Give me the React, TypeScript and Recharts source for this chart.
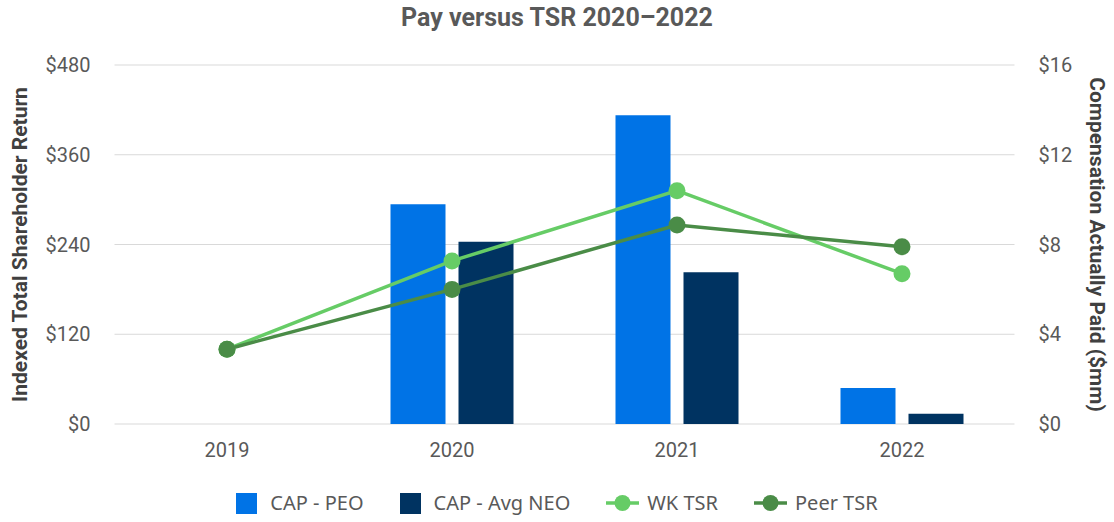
import React from 'react';
import { ComposedChart, Bar, Line, XAxis, YAxis, CartesianGrid, Legend } from 'recharts';

const years = ['2019', '2020', '2021', '2022'];
const capPeo = [null, 9.79, 13.76, 1.6];
const capAvgNeo = [null, 8.12, 6.76, 0.46];
const wkTsr = [100, 218, 312, 201];
const peerTsr = [100, 180, 266, 237];
const tsrTicks = [0, 120, 240, 360, 480];
const capTicks = [0, 4, 8, 12, 16];

const data = years.map((y, i) => ({
  year: y,
  peo: capPeo[i],
  neo: capAvgNeo[i],
  wk: wkTsr[i],
  peer: peerTsr[i],
}));

const C_PEO = '#0073E6';
const C_NEO = '#003361';
const C_WK = '#66CC66';
const C_PEER = '#4A8C47';
const TICK = '#595959';
const LABEL = '#404040';

const legendItems = [
  { name: 'CAP - PEO', color: C_PEO, kind: 'square' },
  { name: 'CAP - Avg NEO', color: C_NEO, kind: 'square' },
  { name: 'WK TSR', color: C_WK, kind: 'line' },
  { name: 'Peer TSR', color: C_PEER, kind: 'line' },
];

const LegendContent = () => (
  <div style={{ height: 30, display: 'flex', justifyContent: 'center', alignItems: 'center', fontFamily: '"Noto Sans", sans-serif', fontSize: 20, color: TICK }}>
    {legendItems.map((it, i) => (
      <div key={it.name} style={{ display: 'flex', alignItems: 'center', marginLeft: i === 0 ? 0 : 36 }}>
        {it.kind === 'square' ? (
          <svg width={21} height={21} style={{ marginRight: 13 }}>
            <rect x={0} y={0} width={21} height={21} fill={it.color} />
          </svg>
        ) : (
          <svg width={33} height={20} style={{ marginRight: 8 }}>
            <line x1={0} y1={10} x2={33} y2={10} stroke={it.color} strokeWidth={3.5} />
            <circle cx={16.5} cy={10} r={8} fill={it.color} />
          </svg>
        )}
        <span style={{ lineHeight: '30px', whiteSpace: 'nowrap' }}>{it.name}</span>
      </div>
    ))}
  </div>
);

export default function App() {
  return (
    <div style={{ position: 'absolute', left: 0, top: 0, width: 1114, height: 522, background: '#fff' }}>
      <div style={{ position: 'absolute', top: 3, left: 0, width: 1114, textAlign: 'center', fontFamily: 'Roboto, sans-serif', fontWeight: 700, fontSize: 25, color: TICK, lineHeight: '30px' }}>
        Pay versus TSR 2020–2022
      </div>
      <ComposedChart width={1114} height={522} data={data} margin={{ top: 65, right: 5, bottom: 4, left: 5 }} barGap={13}>
        <CartesianGrid yAxisId="tsr" vertical={false} stroke="#d9d9d9" strokeWidth={1} />
        <XAxis dataKey="year" axisLine={false} tickLine={false} tickSize={0} tickMargin={19} height={64}
          tick={{ fill: TICK, fontSize: 20, fontFamily: 'Roboto, sans-serif' }} />
        <YAxis yAxisId="tsr" orientation="left" domain={[0, 480]} ticks={tsrTicks} width={109.5}
          axisLine={false} tickLine={false} tickSize={0} tickMargin={24}
          tickFormatter={(v) => `$${v}`}
          tick={{ fill: TICK, fontSize: 20, fontFamily: 'Roboto, sans-serif' }}
          label={{ value: 'Indexed Total Shareholder Return', angle: -90, position: 'insideLeft', offset: 15,
            style: { textAnchor: 'middle', fill: LABEL, fontSize: 21, fontWeight: 700, fontFamily: 'Roboto, sans-serif' } }} />
        <YAxis yAxisId="cap" orientation="right" domain={[0, 16]} ticks={capTicks} width={94.5}
          axisLine={false} tickLine={false} tickSize={0} tickMargin={24}
          tickFormatter={(v) => `$${v}`}
          tick={{ fill: TICK, fontSize: 20, fontFamily: 'Roboto, sans-serif' }}
          label={{ value: 'Compensation Actually Paid ($mm)', angle: 90, position: 'insideRight', offset: 12,
            style: { textAnchor: 'middle', fill: LABEL, fontSize: 21, fontWeight: 700, fontFamily: 'Roboto, sans-serif' } }} />
        <Legend verticalAlign="bottom" content={LegendContent} />
        <Bar yAxisId="cap" dataKey="peo" name="CAP - PEO" fill={C_PEO} barSize={55} isAnimationActive={false} />
        <Bar yAxisId="cap" dataKey="neo" name="CAP - Avg NEO" fill={C_NEO} barSize={55} isAnimationActive={false} />
        <Line yAxisId="tsr" dataKey="wk" name="WK TSR" stroke={C_WK} strokeWidth={3.5}
          dot={{ r: 8.5, fill: C_WK, stroke: 'none' }} activeDot={false} isAnimationActive={false} />
        <Line yAxisId="tsr" dataKey="peer" name="Peer TSR" stroke={C_PEER} strokeWidth={3.5}
          dot={{ r: 8.5, fill: C_PEER, stroke: 'none' }} activeDot={false} isAnimationActive={false} />
      </ComposedChart>
    </div>
  );
}
